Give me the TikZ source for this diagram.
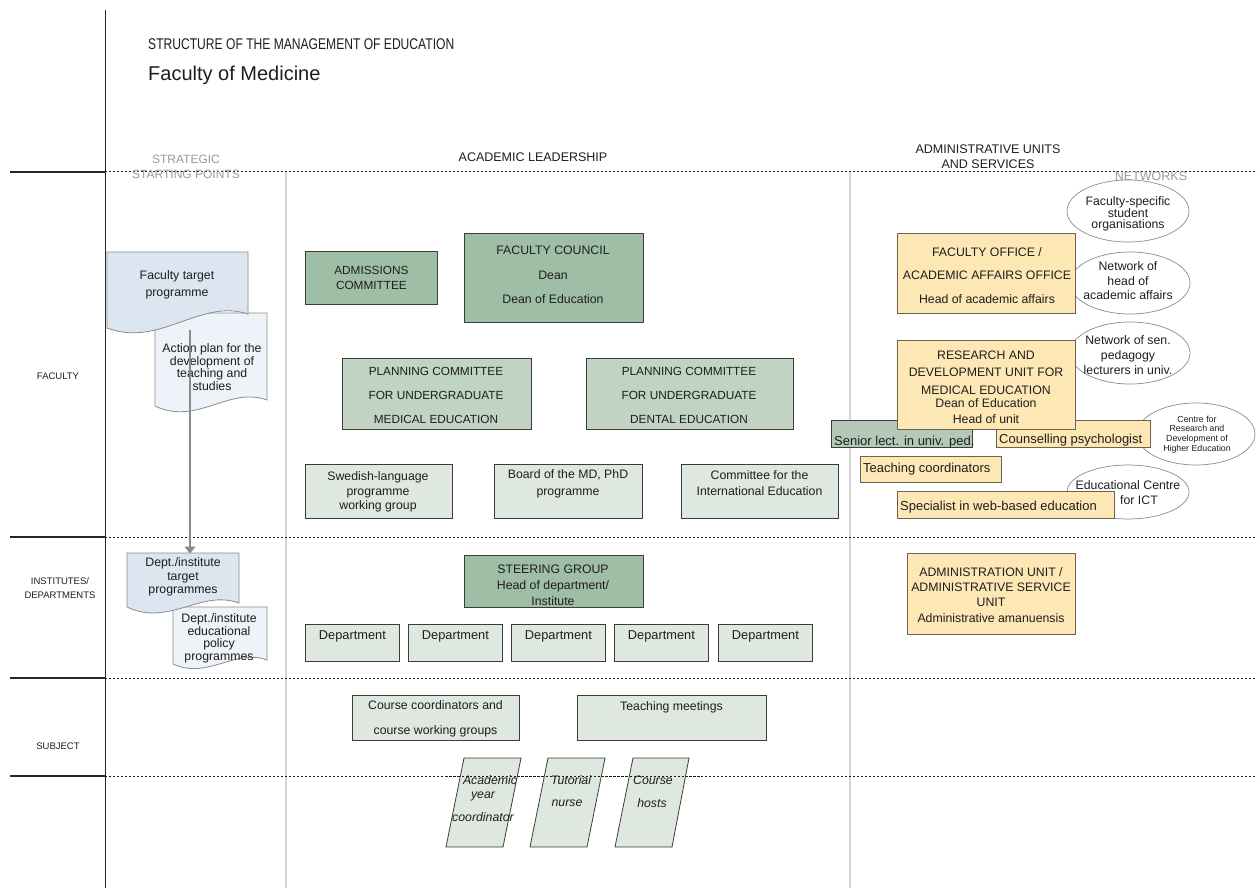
\documentclass[tikz,border=0pt]{standalone}
\usepackage{fontspec}
\setmainfont{Liberation Sans}
\newfontfamily\narrowf{Liberation Sans}[FakeStretch=0.78]
\usetikzlibrary{shapes.geometric,arrows.meta}
\definecolor{darkgreen}{HTML}{9FBEA6}
\definecolor{midgreen}{HTML}{C1D4C3}
\definecolor{lightgreen}{HTML}{DEE8DF}
\definecolor{seniorgreen}{HTML}{B4C9B7}
\definecolor{paleyellow}{HTML}{FDE7B4}
\definecolor{yellowline}{HTML}{6B6350}
\definecolor{boxline}{HTML}{3C3C3C}
\definecolor{docblue}{HTML}{DCE6F1}
\definecolor{docpale}{HTML}{EEF2F9}
\definecolor{docline}{HTML}{8C8C8C}
\definecolor{sepgray}{HTML}{D4D4D4}
\definecolor{headgray}{HTML}{9A9A9A}
\definecolor{inkcol}{HTML}{1E1E1E}
\definecolor{arrowgray}{HTML}{8A8A8A}
\newcommand{\fsz}[2]{\fontsize{#1}{#2}\selectfont}
\begin{document}
\begin{tikzpicture}[x=1pt,y=-1pt,
  every node/.style={text=inkcol},
  gbox/.style={draw=boxline, line width=0.8pt, inner sep=0pt, anchor=north west},
  darkbox/.style={gbox, fill=darkgreen},
  midbox/.style={gbox, fill=midgreen},
  lightbox/.style={gbox, fill=lightgreen},
  seniorbox/.style={gbox, fill=seniorgreen},
  yelbox/.style={draw=yellowline, line width=0.9pt, fill=paleyellow, inner sep=0pt, anchor=north west},
  lbl/.style={inner sep=0pt, align=center},
  netell/.style={ellipse, draw=docline, line width=0.7pt, fill=white, inner sep=0pt},
  docshape/.style={draw=docline, line width=0.8pt},
  sepline/.style={dash pattern=on 2pt off 2pt, line width=1pt, draw=black!90},
  rowline/.style={line width=1.4pt, draw=black!85},
  colline/.style={line width=1.4pt, draw=sepgray},
  parbox/.style={draw=boxline, line width=0.8pt, fill=lightgreen},
]
\useasboundingbox (0,0) rectangle (1259,888);
\fill[white] (0,0) rectangle (1259,888);

% ---------- frame lines ----------
\draw[colline] (286,172) -- (286,888);
\draw[colline] (850,172) -- (850,888);
\draw[line width=1pt, draw=black!85] (105,10) -- (105,888);
\foreach \yy in {172,537,678,776}{
  \draw[rowline] (10,\yy) -- (105,\yy);
  \draw[sepline] (105,\yy) -- (1257,\yy);
}

% ---------- titles ----------
\node[anchor=base west, inner sep=0pt, font={\narrowf\fsz{15.5}{17}}] (title) at (148,50) {STRUCTURE OF THE MANAGEMENT OF EDUCATION};
\node[anchor=base west, inner sep=0pt, font={\fsz{20}{22}}] (subtitle) at (148,81) {Faculty of Medicine};

% ---------- column headers ----------
\node[lbl, text=headgray, font={\fsz{12}{15}}] (strat) at (186,166.5) {STRATEGIC\\STARTING POINTS};
\node[lbl, font={\fsz{12.5}{15}}] (acad) at (533,157) {ACADEMIC LEADERSHIP};
\node[lbl, font={\fsz{12.5}{15.5}}] (admh) at (988,156.5) {ADMINISTRATIVE UNITS\\AND SERVICES};
\node[lbl, text=headgray, font={\fsz{12.5}{15}}] (netw) at (1151,176) {NETWORKS};

% ---------- row labels ----------
\node[lbl, font={\fsz{9.5}{12}}] (rfac) at (58,376) {FACULTY};
\node[lbl, font={\fsz{9.5}{14}}] (rinst) at (60,588) {INSTITUTES/\\DEPARTMENTS};
\node[lbl, font={\fsz{9.5}{12}}] (rsub) at (58,746) {SUBJECT};

% ---------- documents ----------
\filldraw[docshape, fill=docpale] (155,313) -- (267,313) -- (267,400)
  .. controls (229,386) and (197,426) .. (155,406) -- cycle;
\filldraw[docshape, fill=docblue] (107,252) -- (248,252) -- (248,314)
  .. controls (200,298) and (160,348) .. (107,328) -- cycle;
\node[lbl, font={\fsz{12.3}{17}}] (doca) at (177,284.5) {Faculty target\\programme};
\node[lbl, font={\fsz{12.3}{12.7}}] (docb) at (212,367) {Action plan for the\\development of\\teaching and\\studies};

\filldraw[docshape, fill=docpale] (173,607) -- (267,607) -- (267,660)
  .. controls (235,648) and (208,680) .. (173,664) -- cycle;
\filldraw[docshape, fill=docblue] (127,553) -- (239,553) -- (239,603)
  .. controls (201,589) and (169,627) .. (127,607) -- cycle;
\node[lbl, font={\fsz{12.3}{13.5}}] (docc) at (183,577) {Dept./institute\\target\\programmes};
\node[lbl, font={\fsz{12.3}{12.5}}] (docd) at (219,638.5) {Dept./institute\\educational\\policy\\programmes};

\coordinate (arrA) at (190,330);
\coordinate (arrB) at (190,553);
\draw[draw=arrowgray, line width=1.1pt, -{Triangle[length=7pt,width=11pt]}, shorten >=-0.5pt] (arrA) -- (arrB);

% ---------- academic leadership: faculty ----------
\node[darkbox, minimum width=132, minimum height=53] (adm) at (305,251) {};
\node[lbl, font={\fsz{11.8}{15}}] (admt) at (adm.center) {ADMISSIONS\\COMMITTEE};
\node[darkbox, minimum width=179, minimum height=89] (fc) at (464,233) {};
\node[lbl, font={\fsz{12.3}{24.5}}] (fct) at (553,275) {FACULTY COUNCIL\\Dean\\Dean of Education};

\node[midbox, minimum width=189, minimum height=71] (pm) at (342,358) {};
\node[lbl, font={\fsz{11.8}{24}}] (pmt) at (436,395) {PLANNING COMMITTEE\\FOR UNDERGRADUATE\\MEDICAL EDUCATION};
\node[midbox, minimum width=207, minimum height=71] (pd) at (586,358) {};
\node[lbl, font={\fsz{11.8}{24}}] (pdt) at (689,395) {PLANNING COMMITTEE\\FOR UNDERGRADUATE\\DENTAL EDUCATION};

\node[lightbox, minimum width=147, minimum height=54] (sw) at (305,464) {};
\node[lbl, font={\fsz{12.3}{14.5}}] (swt) at (378,492) {Swedish-language\\programme\\working group};
\node[lightbox, minimum width=148, minimum height=54] (bmd) at (494,464) {};
\node[lbl, font={\fsz{12.3}{17}}] (bmdt) at (568,483.5) {Board of the MD, PhD\\programme};
\node[lightbox, minimum width=157, minimum height=54] (cie) at (681,464) {};
\node[lbl, font={\fsz{12.3}{16}}] (ciet) at (759.5,483) {Committee for the\\International Education};

% ---------- networks ----------
\node[netell, minimum width=122, minimum height=62] (e1) at (1128,211) {};
\node[lbl, font={\fsz{12.3}{11.5}}] (e1t) at (1128,214) {Faculty-specific\\student\\organisations};
\node[netell, minimum width=120, minimum height=62] (e2) at (1130,283) {};
\node[lbl, font={\fsz{12.3}{14.5}}] (e2t) at (1128,281) {Network of\\head of\\academic affairs};
\node[netell, minimum width=120, minimum height=62] (e3) at (1130,353) {};
\node[lbl, font={\fsz{12.3}{15}}] (e3t) at (1128,355) {Network of sen.\\pedagogy\\lecturers in univ.};
\node[netell, minimum width=118, minimum height=62] (e4) at (1196,434) {};
\node[lbl, font={\fsz{8.8}{9.6}}] (e4t) at (1197,434.5) {Centre for\\Research and\\Development of\\Higher Education};
\node[netell, minimum width=122, minimum height=54] (e5) at (1128,492) {};
\node[lbl, font={\fsz{12.3}{15}}] (e5t) at (1128,492.5) {Educational Centre\\\hspace*{22pt}for ICT};

% ---------- administrative units ----------
\node[seniorbox, minimum width=141, minimum height=27] (sen) at (831,420) {};
\node[anchor=base west, inner sep=0pt, font={\fsz{13}{15}}] (sent) at (834,445) {Senior lect. in univ. ped.};
\node[yelbox, minimum width=154, minimum height=27] (cp) at (996,420) {};
\node[anchor=base west, inner sep=0pt, font={\fsz{13}{15}}] (cpt) at (999,443.5) {Counselling psychologist};
\node[yelbox, minimum width=141, minimum height=26] (tc) at (860,456) {};
\node[anchor=base west, inner sep=0pt, font={\fsz{13}{15}}] (tct) at (863,472) {Teaching coordinators};
\node[yelbox, minimum width=217, minimum height=27] (sp) at (897,491) {};
\node[anchor=base west, inner sep=0pt, font={\fsz{13}{15}}] (spt) at (900,510) {Specialist in web-based education};

\node[yelbox, minimum width=178, minimum height=80] (fo) at (897,233) {};
\node[lbl, font={\fsz{12.3}{23.5}}] (fot) at (987,275.5) {FACULTY OFFICE /\\ACADEMIC AFFAIRS OFFICE\\Head of academic affairs};
\node[yelbox, minimum width=178, minimum height=89] (rd) at (897,340) {};
\node[lbl, font={\fsz{12.3}{16}}] (rdt) at (986,387) {RESEARCH AND\\[1pt]DEVELOPMENT UNIT FOR\\[2pt]MEDICAL EDUCATION\\[-3pt]Dean of Education\\Head of unit};

% ---------- institutes / departments ----------
\node[darkbox, minimum width=179, minimum height=52] (sg) at (464,555) {};
\node[lbl, font={\fsz{12.3}{16}}] (sgt) at (553,585) {STEERING GROUP\\Head of department/\\Institute};
\foreach \dx/\nm in {305/d1,408/d2,511/d3,614/d4,718/d5}{
  \node[lightbox, minimum width=94, minimum height=37] (\nm) at (\dx,624) {};
  \node[lbl, font={\fsz{12.8}{15}}] (\nm t) at ([yshift=-12pt]\nm.north) {Department};
}

\node[yelbox, minimum width=168, minimum height=81] (au) at (907,553) {};
\node[lbl, font={\fsz{12.3}{15}}] (aut) at (991,595) {ADMINISTRATION UNIT /\\ADMINISTRATIVE SERVICE\\UNIT\\[1pt]Administrative amanuensis};

% ---------- subject ----------
\node[lightbox, minimum width=167, minimum height=45] (cc) at (352,695) {};
\node[lbl, font={\fsz{12.3}{25}}] (cct) at (435.5,718.5) {Course coordinators and\\course working groups};
\node[lightbox, minimum width=189, minimum height=45] (tm) at (577,695) {};
\node[lbl, font={\fsz{12.3}{15}}] (tmt) at (671.5,707) {Teaching meetings};

\filldraw[parbox] (464,758) -- (521,758) -- (503,847) -- (446,847) -- cycle;
\filldraw[parbox] (548,758) -- (605,758) -- (587,847) -- (530,847) -- cycle;
\filldraw[parbox] (633,758) -- (689,758) -- (672,847) -- (615,847) -- cycle;
\draw[sepline] (446,776) -- (700,776);
\node[lbl, font={\fsz{12.3}{15}\itshape}] (p1a) at (490,780) {Academic};
\node[lbl, font={\fsz{12.3}{15}\itshape}] (p1b) at (483,796) {year};
\node[lbl, font={\fsz{12.3}{15}\itshape}] (p1c) at (483,817) {coordinator};
\node[lbl, font={\fsz{12.3}{15}\itshape}] (p2a) at (571,780) {Tutorial};
\node[lbl, font={\fsz{12.3}{15}\itshape}] (p2b) at (567,803) {nurse};
\node[lbl, font={\fsz{12.3}{15}\itshape}] (p3a) at (653,780) {Course};
\node[lbl, font={\fsz{12.3}{15}\itshape}] (p3b) at (652,803) {hosts};
\end{tikzpicture}
\end{document}
